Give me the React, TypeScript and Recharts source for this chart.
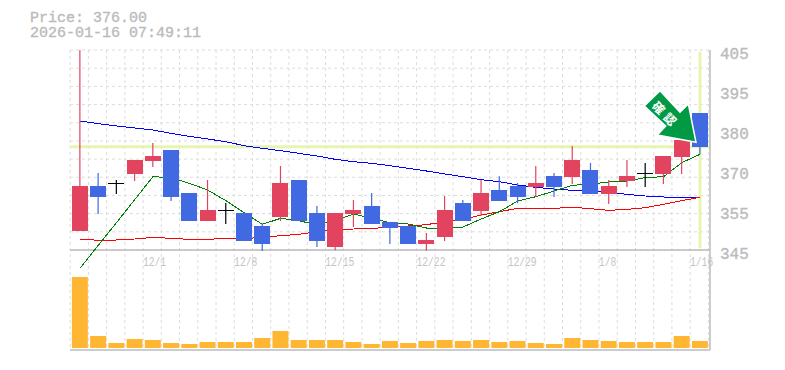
import {
  Bar,
  CartesianGrid,
  ComposedChart,
  Line,
  ReferenceDot,
  ReferenceLine,
  XAxis,
  YAxis,
} from 'recharts';

const opens = [350.7, 364.2, 365.1, 367.8, 371.7, 375, 362.1, 353.7, 357, 356.1, 352.2, 354.9, 366, 356.1, 345.9, 355.8, 358.2, 353.4, 352.2, 346.8, 348.9, 359.1, 356.7, 363, 364.2, 363.9, 367.2, 366.9, 369, 361.8, 365.7, 368.1, 367.8, 372.9, 386.1];
const closes = [364.2, 360.9, 365.1, 372, 373.2, 360.9, 353.7, 357, 357, 347.7, 346.8, 365.1, 353.7, 347.7, 356.1, 357, 352.8, 351.7, 346.8, 348, 357, 353.7, 362.1, 359.7, 360.9, 365.1, 363.9, 372, 361.8, 364.2, 367.2, 368.1, 373.2, 378, 376];
const highs = [405, 368.1, 366, 372, 377.1, 375, 362.1, 366, 359.1, 356.1, 353, 370.2, 366, 358.2, 356.1, 360, 362.1, 353.4, 352.2, 350.1, 361.2, 360, 366, 367.1, 365.1, 370.2, 368.1, 376.2, 371.1, 366, 372, 371.1, 373.2, 378, 386.1];
const lows = [350.7, 355.8, 361.8, 365.7, 369.9, 359.7, 353.7, 353.7, 352.8, 347.7, 344.7, 353.7, 353.7, 345.9, 344.9, 351.9, 352.8, 346.8, 346.8, 344.8, 347.7, 353.7, 355.2, 359.7, 359, 360.9, 360.9, 364.8, 361.8, 358.8, 363.9, 363.9, 364.8, 367.8, 373.7];
const volumes = [7100, 1200, 500, 900, 800, 500, 400, 600, 600, 600, 1000, 1700, 800, 800, 800, 600, 400, 700, 500, 700, 800, 700, 800, 600, 700, 500, 400, 1000, 800, 700, 600, 600, 600, 1200, 700];
const maShort = [339.5, 346.4, 353.2, 360.1, 367, 366.7, 365, 363, 359.8, 356.2, 352.7, 354.5, 353.8, 352.5, 353.8, 355.8, 354.5, 353.2, 352.8, 351.6, 351.6, 351.9, 354.3, 356.5, 359.7, 361, 362.7, 364.4, 364.8, 365.4, 365.7, 366.7, 367, 371.2, 373.7];
const maMid = [348.3, 347.9, 348, 348.3, 348.8, 348.5, 348.2, 348.2, 348.5, 348.5, 348.7, 349.3, 349.7, 350.5, 351, 351.3, 351.5, 351.8, 352.2, 352.6, 353.5, 354.2, 355.5, 356.5, 357.5, 357.5, 357.5, 357.8, 357.4, 356.9, 357.2, 357.7, 358.7, 359.8, 360.8];
const maLong = [383.7, 382.9, 382.2, 381.6, 381, 380, 379.1, 378.3, 377.5, 376.3, 375.5, 374.8, 374, 373.2, 372.2, 371.5, 371, 370.3, 369.5, 368.7, 367.8, 367, 366.1, 365.5, 364.5, 363.8, 363.3, 362.9, 362.8, 362.3, 361.7, 361.2, 360.9, 360.8, 360.6];
const dateTicks = [4, 9, 14, 19, 24, 29, 34];
const dateLabels = ['12/1', '12/8', '12/15', '12/22', '12/29', '1/8', '1/16'];
const priceTicks = [345, 357, 369, 381, 393, 405];
const lastPrice = 376;

const data = opens.map((open, i) => ({
  i,
  open,
  close: closes[i],
  high: highs[i],
  low: lows[i],
  range: [lows[i], highs[i]],
  volume: volumes[i],
  maShort: maShort[i],
  maMid: maMid[i],
  maLong: maLong[i],
}));

const RED = '#e2445f';
const BLUE = '#4169e1';
const GREY = '#bbbbbb';
const MONO = '"Liberation Mono", monospace';

const slotLines = opens.map((_, i) => i - 0.54).concat(opens.length - 0.54);
const priceLines = Array.from({ length: 12 }, (_, i) => 345 + (i * 60) / 11);

function Candle(props: any) {
  const { x, y, width, height, payload } = props;
  const { open, close, high, low } = payload;
  const perUnit = height / (high - low || 1);
  const yOf = (v: number) => y + (high - v) * perUnit;
  const top = yOf(Math.max(open, close));
  const bottom = yOf(Math.min(open, close));
  const mid = x + width / 2;
  const doji = open === close;
  const color = doji ? '#000000' : close > open ? RED : BLUE;
  return (
    <g>
      <line x1={mid} x2={mid} y1={y} y2={y + height} stroke={color} strokeWidth={1.2} />
      {doji ? (
        <line x1={x} x2={x + width} y1={top} y2={top} stroke={color} strokeWidth={1} shapeRendering="crispEdges" />
      ) : (
        <rect x={x} y={top} width={width} height={bottom - top} fill={color} shapeRendering="crispEdges" />
      )}
    </g>
  );
}

function DateTick({ x, payload }: any) {
  const label = dateLabels[dateTicks.indexOf(payload.value)];
  return (
    <text
      x={x - 10}
      y={266}
      fontFamily={MONO}
      fontSize={12}
      fill="#c4c4c4"
      textLength={label.length * 5.8}
      lengthAdjust="spacingAndGlyphs"
    >
      {label}
    </text>
  );
}

function PriceArrow({ cx, cy }: any) {
  const tip = { x: cx - 4, y: cy - 4.4 };
  const pts = [
    [-36, -51.6],
    [-51.7, -36.3],
    [-30.3, -16.3],
    [-38.7, -7.3],
    [0, 0],
    [-7.7, -38.3],
    [-16, -30],
  ]
    .map(([dx, dy]) => `${tip.x + dx},${tip.y + dy}`)
    .join(' ');
  const label = { x: tip.x - 29.5, y: tip.y - 28 };
  return (
    <g>
      <polygon points={pts} fill="#009944" stroke="#ffffff" strokeWidth={1.5} />
      <text
        x={label.x}
        y={label.y}
        transform={`rotate(45 ${label.x} ${label.y})`}
        textAnchor="middle"
        dominantBaseline="central"
        fontFamily='"Noto Sans CJK JP"'
        fontWeight={700}
        fontSize={12}
        letterSpacing={4}
        fill="#ffffff"
      >
        確認
      </text>
    </g>
  );
}

export default function App() {
  return (
    <div style={{ position: 'absolute', left: 0, top: 0, width: 785, height: 370 }}>
      <ComposedChart
        width={785}
        height={370}
        data={data}
        margin={{ top: 50, right: 0, bottom: 0, left: 70 }}
        style={{ position: 'absolute', left: 0, top: 0 }}
      >
        <XAxis
          xAxisId="price"
          dataKey="i"
          type="number"
          domain={[-0.548, 34.548]}
          ticks={dateTicks}
          tick={DateTick}
          tickLine={false}
          axisLine={{ stroke: GREY, strokeWidth: 1.5 }}
          height={20}
          interval={0}
        />
        <XAxis xAxisId="volume" dataKey="i" type="number" domain={[-0.548, 34.548]} hide />
        <YAxis
          yAxisId="price"
          orientation="right"
          domain={[315, 405]}
          ticks={priceTicks}
          interval={0}
          tickFormatter={(v: number) => String(Math.round(v / 5) * 5)}
          tick={{ fill: GREY, stroke: GREY, strokeWidth: 0.35, fontSize: 16, fontFamily: MONO, dy: 3 }}
          tickLine={false}
          axisLine={{ stroke: GREY, strokeWidth: 1.5 }}
          width={75}
          tickMargin={4}
        />
        <YAxis yAxisId="volume" domain={[-200, 29800]} hide />
        <CartesianGrid
          xAxisId="price"
          yAxisId="price"
          stroke="#dddddd"
          strokeDasharray="3 3"
          horizontalValues={priceLines}
          verticalValues={slotLines}
        />
        <ReferenceLine xAxisId="price" yAxisId="price" y={345} stroke={GREY} strokeWidth={1.5} zIndex={50} />
        <ReferenceLine xAxisId="price" yAxisId="price" y={lastPrice} stroke="#e6f5b0" strokeWidth={3} zIndex={50} />
        <ReferenceLine
          xAxisId="price"
          yAxisId="price"
          segment={[
            { x: 34, y: 404.5 },
            { x: 34, y: 345.5 },
          ]}
          stroke="#e6f5b0"
          strokeWidth={3}
          zIndex={50}
        />
        <Bar xAxisId="volume" yAxisId="volume" dataKey="volume" fill="#ffb733" barSize={16} isAnimationActive={false} />
        <Line xAxisId="price" yAxisId="price" dataKey="maLong" stroke="#0000ff" strokeWidth={1} dot={false} activeDot={false} shapeRendering="crispEdges" isAnimationActive={false} zIndex={250} />
        <Line xAxisId="price" yAxisId="price" dataKey="maMid" stroke="#ff0000" strokeWidth={1} dot={false} activeDot={false} shapeRendering="crispEdges" isAnimationActive={false} zIndex={250} />
        <Line xAxisId="price" yAxisId="price" dataKey="maShort" stroke="#008000" strokeWidth={1} dot={false} activeDot={false} shapeRendering="crispEdges" isAnimationActive={false} zIndex={250} />
        <Bar xAxisId="price" yAxisId="price" dataKey="range" shape={Candle} barSize={16} isAnimationActive={false} />
        <ReferenceDot xAxisId="price" yAxisId="price" x={34} y={lastPrice} shape={PriceArrow} zIndex={700} />
      </ComposedChart>
      <div style={{ position: 'absolute', left: 30, top: 11, fontFamily: MONO, fontSize: 15, lineHeight: '15px', color: GREY, WebkitTextStroke: '0.35px #bbbbbb', whiteSpace: 'pre' }}>
        {`Price: ${lastPrice.toFixed(2)}\n2026-01-16 07:49:11`}
      </div>
    </div>
  );
}
